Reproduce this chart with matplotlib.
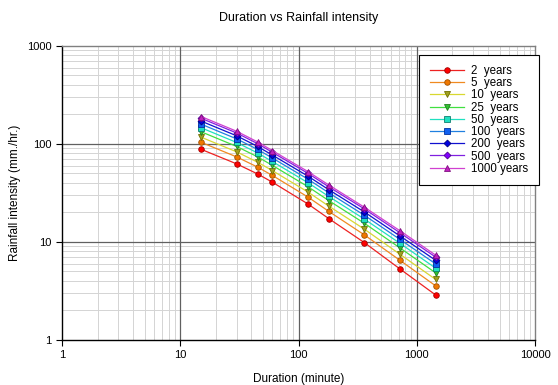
import matplotlib
matplotlib.use('Agg')
import matplotlib.pyplot as plt
from matplotlib.ticker import FixedLocator, FixedFormatter, NullFormatter, LogLocator

matplotlib.rcParams['font.family'] = ['Liberation Sans', 'DejaVu Sans']

# Duration (minute)
duration = [15, 30, 45, 60, 120, 180, 360, 720, 1440]

# Rainfall intensity (mm./hr.) per return period
i_2 = [88.0, 62.5, 49.4, 40.7, 24.4, 17.3, 9.84, 5.3, 2.88]
i_5 = [103.8, 73.6, 58.0, 47.7, 28.7, 20.5, 11.8, 6.49, 3.57]
i_10 = [117.0, 82.9, 65.1, 53.4, 32.3, 23.2, 13.5, 7.48, 4.15]
i_25 = [132.9, 94.1, 73.8, 60.4, 36.6, 26.4, 15.5, 8.68, 4.84]
i_50 = [146.0, 103.3, 80.8, 66.1, 40.2, 29.1, 17.1, 9.67, 5.41]
i_100 = [158.9, 112.4, 87.8, 71.8, 43.7, 31.7, 18.7, 10.6, 5.98]
i_200 = [170.7, 120.8, 94.2, 76.9, 46.9, 34.1, 20.2, 11.5, 6.50]
i_500 = [182.4, 129.0, 100.6, 82.1, 50.1, 36.5, 21.7, 12.4, 7.01]
i_1000 = [190.1, 134.4, 104.7, 85.5, 52.2, 38.1, 22.6, 13.0, 7.34]

labels = ['2  years', '5  years', '10  years', '25  years', '50  years',
          '100  years', '200  years', '500  years', '1000 years']
series = [i_2, i_5, i_10, i_25, i_50, i_100, i_200, i_500, i_1000]

x_ticks = [1, 10, 100, 1000, 10000]
y_ticks = [1, 10, 100, 1000]

line_colors = ['#ee2222', '#f08a20', '#d8d830', '#40e040', '#20e0c0',
               '#2080e0', '#1010d0', '#8020e0', '#d040d0']
face_colors = ['#ff0000', '#f07800', '#a0a020', '#30c030', '#20e0c0',
               '#1060f0', '#0000e0', '#8000ff', '#c020c0']
edge_colors = ['#a00000', '#a05000', '#707000', '#208020', '#108070',
               '#0030a0', '#000080', '#500090', '#801080']
markers = ['o', 'o', 'v', 'v', 's', 's', 'D', 'D', '^']

fig = plt.figure(figsize=(5.58, 3.85), dpi=100)
ax = fig.add_axes([0.111, 0.117, 0.848, 0.764])

for y, lab, lc, fc, ec, m in zip(series, labels, line_colors, face_colors, edge_colors, markers):
    ax.plot(duration, y, color=lc, linewidth=0.9, marker=m, markersize=4 if m != 'D' else 3.5,
            markerfacecolor=fc, markeredgecolor=ec, markeredgewidth=0.6, label=lab, zorder=3)

ax.set_xscale('log')
ax.set_yscale('log')
ax.set_xlim(1, 10000)
ax.set_ylim(1, 1000)

ax.xaxis.set_major_locator(FixedLocator(x_ticks))
ax.xaxis.set_major_formatter(FixedFormatter([str(v) for v in x_ticks]))
ax.yaxis.set_major_locator(FixedLocator(y_ticks))
ax.yaxis.set_major_formatter(FixedFormatter([str(v) for v in y_ticks]))
ax.xaxis.set_minor_locator(LogLocator(base=10, subs=range(2, 10)))
ax.yaxis.set_minor_locator(LogLocator(base=10, subs=range(2, 10)))
ax.xaxis.set_minor_formatter(NullFormatter())
ax.yaxis.set_minor_formatter(NullFormatter())

# light minor grid, darker decade lines on top of it
ax.grid(which='minor', color='#d4d4d4', linewidth=0.7)
ax.set_axisbelow(True)
for v in x_ticks[1:-1]:
    ax.axvline(v, color='#606060', linewidth=0.9, zorder=1)
for v in y_ticks[1:-1]:
    ax.axhline(v, color='#606060', linewidth=0.9, zorder=1)

ax.tick_params(which='major', direction='out', length=4, labelsize=8)
ax.tick_params(which='minor', length=0)

for s in ['left', 'bottom']:
    ax.spines[s].set_color('black')
    ax.spines[s].set_linewidth(1.0)
for s in ['top', 'right']:
    ax.spines[s].set_color('#808080')
    ax.spines[s].set_linewidth(1.0)

ax.set_title('Duration vs Rainfall intensity', fontsize=9, pad=18)
ax.set_xlabel('Duration (minute)', fontsize=8.5, labelpad=9)
ax.set_ylabel('Rainfall intensity (mm./hr.)', fontsize=8.5)

leg = ax.legend(loc='upper right', bbox_to_anchor=(1.02, 0.99), fontsize=8.3,
                frameon=True, fancybox=False, framealpha=1, edgecolor='black',
                handlelength=3, labelspacing=0.02, borderpad=0.9, handletextpad=0.6)
leg.get_frame().set_linewidth(0.8)
leg.set_zorder(5)

fig.savefig('out.png', dpi=100)
